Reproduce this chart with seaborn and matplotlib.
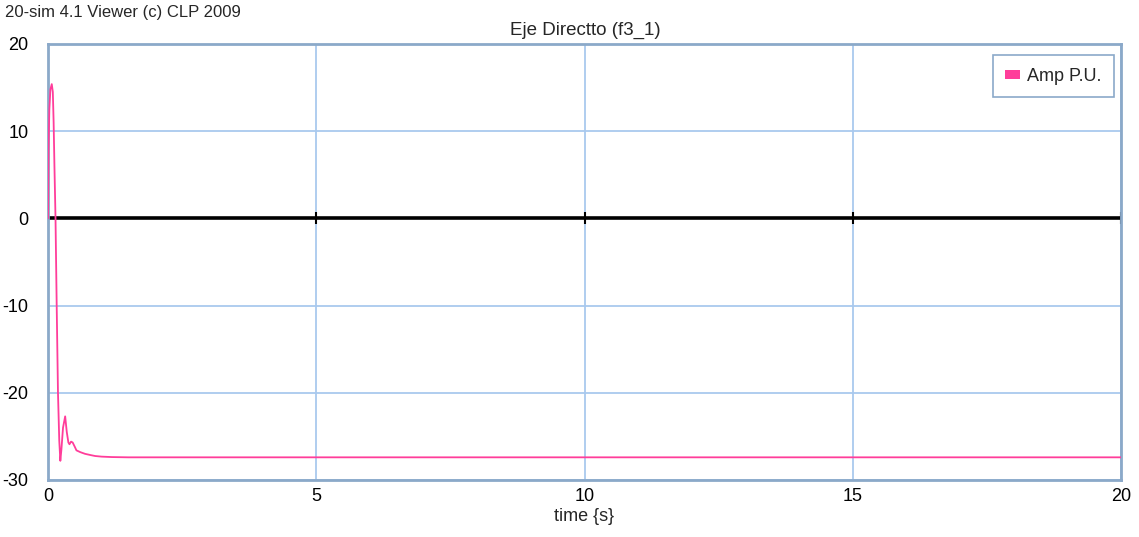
import matplotlib
matplotlib.use("Agg")
import matplotlib.pyplot as plt
import seaborn as sns
import pandas as pd
from matplotlib.patches import Rectangle

# Direct-axis current response (per unit) over simulation time
time_s = [0.0, 0.01, 0.025, 0.045, 0.07, 0.09, 0.105, 0.12, 0.14, 0.162, 0.186,
          0.21, 0.23, 0.25, 0.28, 0.32, 0.35, 0.38, 0.40, 0.43, 0.46, 0.50,
          0.53, 0.60, 0.69, 0.80, 0.88, 1.0, 1.19, 1.5, 2.0, 20.0]
amp_pu = [0.0, 8.0, 12.5, 14.8, 15.4, 14.5, 11.0, 6.0, 0.0, -10.0, -20.0,
          -25.5, -27.8, -26.5, -24.0, -22.7, -24.5, -25.7, -25.9, -25.6, -25.7, -26.2,
          -26.6, -26.8, -27.0, -27.15, -27.25, -27.32, -27.37, -27.4, -27.4, -27.4]

x_ticks = [0, 5, 10, 15, 20]
y_ticks = [-30, -20, -10, 0, 10, 20]

title = "Eje Directto (f3_1)"
banner = "20-sim 4.1 Viewer (c) CLP 2009"
series_name = "Amp P.U."
x_label = "time {s}"

line_color = "#ff3d9a"
grid_color = "#a9c9ee"
frame_color = "#8ba9c9"

sns.set_theme(style="white")
plt.rcParams["font.family"] = ["Liberation Sans", "DejaVu Sans"]
plt.rcParams["axes.unicode_minus"] = False
fs = 13

df = pd.DataFrame({"time": time_s, "amp": amp_pu})

fig = plt.figure(figsize=(11.39, 5.37), dpi=100)
ax = fig.add_axes([48 / 1139, 1 - 480 / 537, (1121 - 48) / 1139, (480 - 44) / 537])

ax.set_xlim(x_ticks[0], x_ticks[-1])
ax.set_ylim(y_ticks[0], y_ticks[-1])
ax.set_xticks(x_ticks)
ax.set_yticks(y_ticks)
ax.grid(True, color=grid_color, linewidth=1.3)
ax.set_axisbelow(True)

# zero axis with its own tick marks
ax.axhline(0, color="black", linewidth=2.6, zorder=2)
ax.plot(x_ticks, [0] * len(x_ticks), linestyle="none", marker="|",
        markersize=8, markeredgewidth=1.5, color="black", zorder=2)

sns.lineplot(data=df, x="time", y="amp", ax=ax, color=line_color,
             linewidth=1.3, zorder=3, legend=False)

for sp in ax.spines.values():
    sp.set_color(frame_color)
    sp.set_linewidth(2)

ax.tick_params(axis="both", length=0, labelsize=fs, colors="black")
ax.tick_params(axis="y", pad=14)
ax.tick_params(axis="x", pad=6)
ax.set_xlabel(x_label, fontsize=fs, labelpad=2)
ax.set_ylabel("")

fig.text(585 / 1139, 1 - 30 / 537, title, ha="center", va="center", fontsize=13.5)
fig.text(5 / 1139, 1 - 13 / 537, banner, ha="left", va="center", fontsize=12)

handle = Rectangle((0, 0), 1, 1, facecolor=line_color, edgecolor="none")
leg = ax.legend([handle], [series_name], loc="upper right", fontsize=fs,
                handlelength=0.8, handleheight=0.4, handletextpad=0.4, fancybox=False,
                framealpha=1, borderpad=0.7, borderaxespad=0,
                bbox_to_anchor=(0.9935, 0.975))
leg.get_frame().set_edgecolor(frame_color)
leg.get_frame().set_linewidth(1.2)

fig.savefig("out.png", dpi=100)
